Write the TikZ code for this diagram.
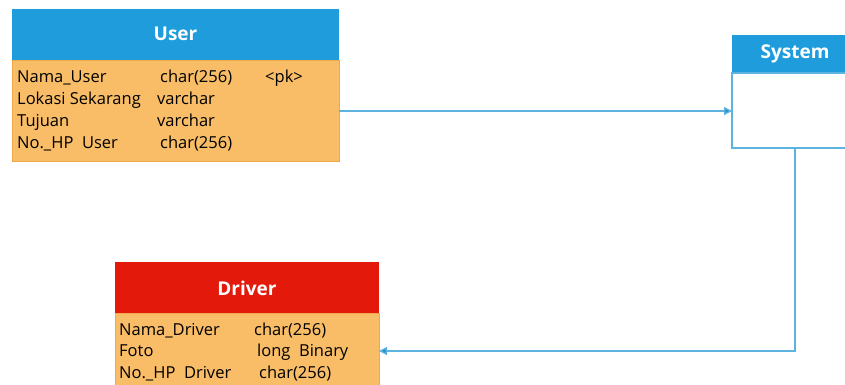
\documentclass[tikz,border=0pt]{standalone}
\usepackage{fontspec}
\setmainfont{Open Sans}
\usetikzlibrary{arrows.meta}
\definecolor{hdrblue}{HTML}{1E9CDC}
\definecolor{hdrred}{HTML}{E31A0B}
\definecolor{bodyorange}{HTML}{F8BD66}
\definecolor{edgeorange}{HTML}{EFA94A}
\definecolor{linkblue}{HTML}{5DB3E0}
\definecolor{tipblue}{HTML}{2290CC}
\tikzset{
  hdr/.style={font=\bfseries\fontsize{19}{22}\selectfont, text=white},
  field/.style={anchor=base west, inner sep=0pt, font=\fontsize{16.5}{19}\selectfont},
  link/.style={draw=linkblue, line width=1.3pt, -{Triangle[length=8pt,width=8pt,fill=tipblue]}},
}
\begin{document}
\begin{tikzpicture}[x=1pt,y=-1pt]
\useasboundingbox (0,0) rectangle (845,385);
\clip (0,0) rectangle (845,385);

% User table
\fill[hdrblue] (12,9) rectangle (339,60);
\fill[bodyorange] (12,60) rectangle (339,161);
\draw[edgeorange, line width=0.8pt] (12,60) rectangle (339,161);
\node[hdr] (userhead) at (175.5,34) {User};
\coordinate (useredge) at (339,111);
\node[field] (u1n) at (17,83) {Nama\_User};
\node[field] (u1t) at (160,83) {char(256)};
\node[field] (u1k) at (265,83) {<pk>};
\node[field] (u2n) at (17,105) {Lokasi Sekarang};
\node[field] (u2t) at (157,105) {varchar};
\node[field] (u3n) at (17,126) {Tujuan};
\node[field] (u3t) at (157,126) {varchar};
\node[field] (u4n) at (17,148) {No.\_HP\ \ User};
\node[field] (u4t) at (160,148) {char(256)};

% System table
\fill[hdrblue] (732,35) rectangle (858,73);
\draw[linkblue, line width=1.2pt] (732,73) rectangle (858,148);
\node[hdr] (syshead) at (795,54) {System};
\coordinate (sysleft) at (732,111);
\coordinate (sysbottom) at (795,148);

% Driver table
\fill[hdrred] (115,262) rectangle (379,313);
\fill[bodyorange] (115,313) rectangle (379,392);
\draw[edgeorange, line width=0.8pt] (115,313) rectangle (379,392);
\node[hdr] (drvhead) at (247,288) {Driver};
\coordinate (drvedge) at (379,351);
\node[field] (d1n) at (119,335) {Nama\_Driver};
\node[field] (d1t) at (254,335) {char(256)};
\node[field] (d2n) at (119,356) {Foto};
\node[field] (d2t) at (257,356) {long\ \ Binary};
\node[field] (d3n) at (119,378) {No.\_HP\ \ Driver};
\node[field] (d3t) at (259,378) {char(256)};

% Relationships
\draw[link] (useredge) -- (sysleft);
\draw[link] (sysbottom) |- (drvedge);
\end{tikzpicture}
\end{document}
